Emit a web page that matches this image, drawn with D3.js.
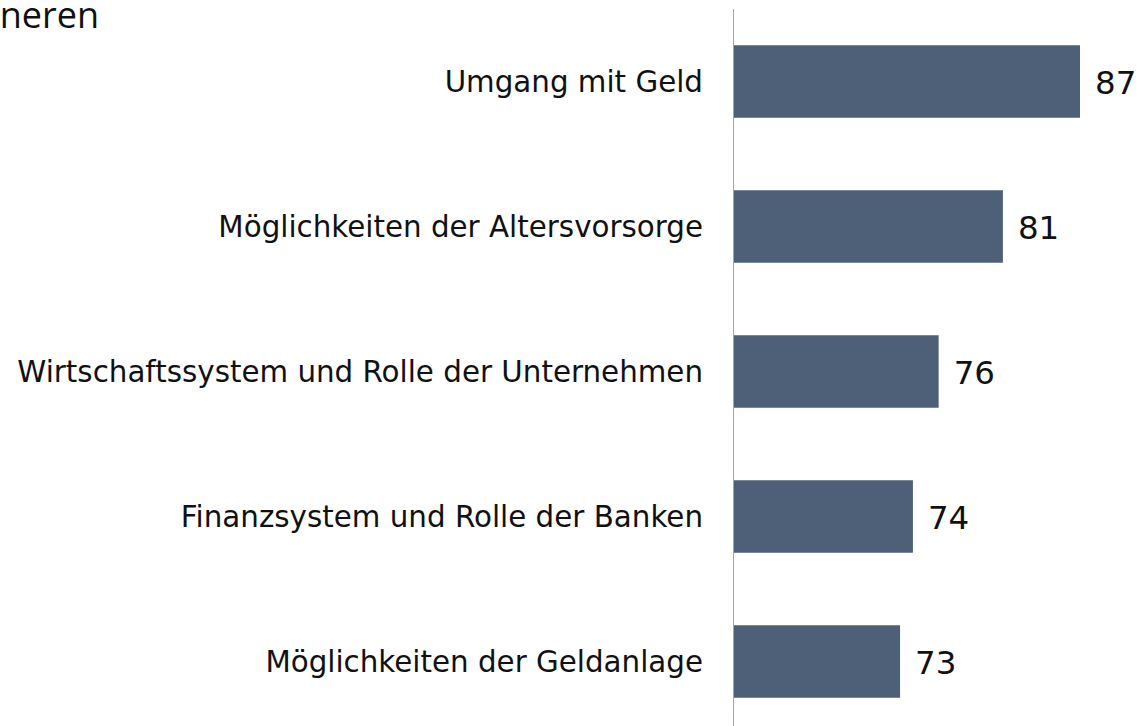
<!DOCTYPE html>
<html>
<head>
<meta charset="utf-8">
<script src="https://cdn.jsdelivr.net/npm/d3@7"></script>
<style>
  body { margin: 0; background: #fff; overflow: hidden; }
  svg { display: block; }
</style>
</head>
<body>
<svg id="chart" width="1139" height="726"></svg>
<script>
// Data
const categories = [
  "Umgang mit Geld",
  "Möglichkeiten der Altersvorsorge",
  "Wirtschaftssystem und Rolle der Unternehmen",
  "Finanzsystem und Rolle der Banken",
  "Möglichkeiten der Geldanlage"
];
const values = [87, 81, 76, 74, 73];
const titleFragment = "neren";

const width = 1139;
const height = 726;
const axisX = 733;

const svg = d3.select("#chart");

// Scales
const x = d3.scaleLinear()
  .domain([60, 87])
  .range([axisX, 1080]);

const y = d3.scaleBand()
  .domain(categories)
  .range([9, 734])
  .paddingInner(0.5)
  .paddingOuter(0.25);

const data = categories.map((c, i) => ({ category: c, value: values[i] }));

// cut-off title in the top left corner (cut in the original too)
svg.append("text")
  .attr("x", 99)
  .attr("y", 28)
  .attr("text-anchor", "end")
  .style("font-family", "'Open Sans', sans-serif")
  .style("font-size", "36px")
  .style("fill", "#111")
  .text(titleFragment);

// bars
svg.selectAll(".bar")
  .data(data)
  .enter()
  .append("rect")
  .attr("class", "bar")
  .attr("x", x(60))
  .attr("y", (d) => y(d.category))
  .attr("width", (d) => x(d.value) - x(60))
  .attr("height", y.bandwidth())
  .attr("fill", "#4e6078");

// vertical axis line
svg.append("line")
  .attr("x1", axisX + 0.5)
  .attr("x2", axisX + 0.5)
  .attr("y1", 9)
  .attr("y2", height)
  .attr("stroke", "#a6a6a6")
  .attr("stroke-width", 1);

// category labels
svg.selectAll(".label")
  .data(data)
  .enter()
  .append("text")
  .attr("class", "label")
  .attr("x", axisX - 30)
  .attr("y", (d) => y(d.category) + y.bandwidth() / 2)
  .attr("dy", "0.35em")
  .attr("text-anchor", "end")
  .style("font-family", "'DejaVu Sans', Verdana, sans-serif")
  .style("font-size", "29.35px")
  .style("fill", "#111")
  .text((d) => d.category);

// value labels
svg.selectAll(".value")
  .data(data)
  .enter()
  .append("text")
  .attr("class", "value")
  .attr("x", (d) => x(d.value) + 15)
  .attr("y", (d) => y(d.category) + y.bandwidth() / 2)
  .attr("dy", "0.38em")
  .style("font-family", "'DejaVu Sans', Verdana, sans-serif")
  .style("font-size", "32.5px")
  .style("fill", "#111")
  .text((d) => d.value);
</script>
</body>
</html>
